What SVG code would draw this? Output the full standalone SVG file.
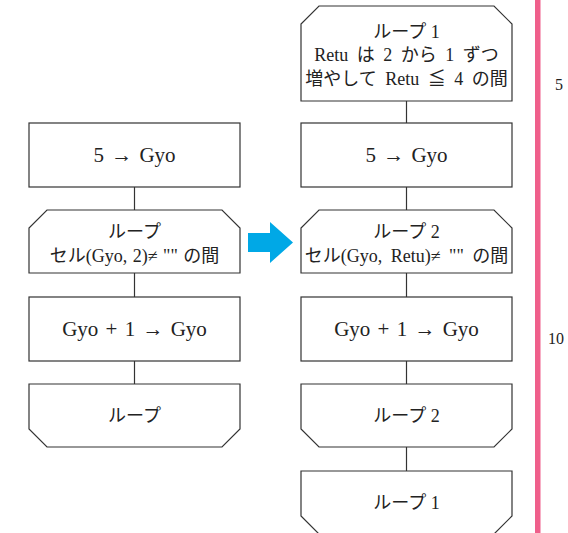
<svg xmlns="http://www.w3.org/2000/svg" width="568" height="533" viewBox="0 0 568 533">
<style>
.n{fill:#fff;stroke:#333;stroke-width:1.2}
.c{stroke:#333;stroke-width:1.2;fill:none}
text{font-family:"Liberation Serif","Noto Sans CJK JP",serif;fill:#222;text-anchor:middle}
.t{font-size:21px;word-spacing:2px}
.s{font-size:18px;word-spacing:4px}
.l{font-size:18px;word-spacing:0px}
.m{font-size:16px;text-anchor:start}
</style>
<rect x="0" y="0" width="568" height="533" fill="#fff"/>
<g id="connectors">
<line class="c" x1="134.5" y1="187" x2="134.5" y2="210"/>
<line class="c" x1="134.5" y1="273" x2="134.5" y2="297"/>
<line class="c" x1="134.5" y1="361" x2="134.5" y2="384"/>
<line class="c" x1="406.5" y1="101" x2="406.5" y2="123"/>
<line class="c" x1="406.5" y1="187" x2="406.5" y2="210"/>
<line class="c" x1="406.5" y1="273" x2="406.5" y2="297"/>
<line class="c" x1="406.5" y1="361" x2="406.5" y2="384"/>
<line class="c" x1="406.5" y1="447" x2="406.5" y2="471"/>
</g>
<g id="L1">
<rect class="n" x="29" y="123" width="211" height="64"/>
<text class="t" x="134.5" y="162">5 → Gyo</text>
</g>
<g id="L2">
<path class="n" d="M47,210 H222 L240,228 V273 H29 V228 Z"/>
<text class="l" x="134.5" y="238">ループ</text>
<text class="s" x="134.5" y="262" style="word-spacing:1px">セル(Gyo, 2)≠ "" の間</text>
</g>
<g id="L3">
<rect class="n" x="29" y="297" width="211" height="64"/>
<text class="t" x="134.5" y="336">Gyo + 1 → Gyo</text>
</g>
<g id="L4">
<path class="n" d="M29,384 H240 V429 L222,447 H47 L29,429 Z"/>
<text class="l" x="134.5" y="422">ループ</text>
</g>
<g id="arrow">
<polygon points="248,233 270,233 270,222 293,242.5 270,263 270,252 248,252" fill="#00A8E6"/>
</g>
<g id="R1">
<path class="n" d="M319,6 H494 L512,24 V101 H301 V24 Z"/>
<text class="l" x="406.5" y="38">ループ 1</text>
<text class="s" x="406.5" y="61">Retu は 2 から 1 ずつ</text>
<text class="s" x="406.5" y="85">増やして Retu ≦ 4 の間</text>
</g>
<g id="R2">
<rect class="n" x="301" y="123" width="211" height="64"/>
<text class="t" x="406.5" y="162">5 → Gyo</text>
</g>
<g id="R3">
<path class="n" d="M319,210 H494 L512,228 V273 H301 V228 Z"/>
<text class="l" x="406.5" y="238">ループ 2</text>
<text class="s" x="406.5" y="262">セル(Gyo, Retu)≠ "" の間</text>
</g>
<g id="R4">
<rect class="n" x="301" y="297" width="211" height="64"/>
<text class="t" x="406.5" y="336">Gyo + 1 → Gyo</text>
</g>
<g id="R5">
<path class="n" d="M301,384 H512 V429 L494,447 H319 L301,429 Z"/>
<text class="l" x="406.5" y="422">ループ 2</text>
</g>
<g id="R6">
<path class="n" d="M301,471 H512 V516 L494,534 H319 L301,516 Z"/>
<text class="l" x="406.5" y="509">ループ 1</text>
</g>
<g id="margin">
<rect x="535" y="0" width="5.5" height="533" fill="#EF5F8B"/>
<text class="m" x="555" y="90">5</text>
<text class="m" x="548" y="344">10</text>
</g>
</svg>
